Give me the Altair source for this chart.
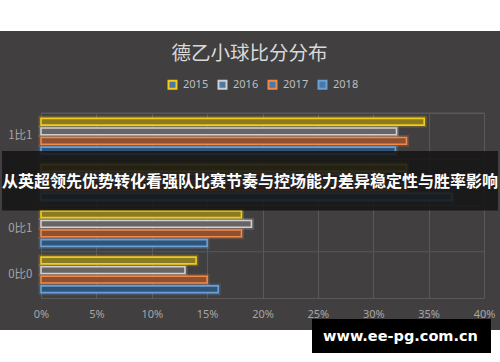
import altair as alt
import pandas as pd

categories = ["1比1", "1比0", "0比1", "0比0"]
years = ["2015", "2016", "2017", "2018"]
values_2015 = [0.346, 0.330, 0.181, 0.140]
values_2016 = [0.321, 0.310, 0.190, 0.130]
values_2017 = [0.330, 0.330, 0.181, 0.150]
values_2018 = [0.320, 0.371, 0.150, 0.160]
x_ticks = [0, 0.05, 0.10, 0.15, 0.20, 0.25, 0.30, 0.35, 0.40]
stroke_colors = ["#f2cc1d", "#cfcfcf", "#ee8a4c", "#6aa0d6"]
fill_colors = ["#8a7b22", "#686464", "#8e5030", "#2f5477"]

title_text = "德乙小球比分分布"
banner_text = "从英超领先优势转化看强队比赛节奏与控场能力差异稳定性与胜率影响"
watermark_text = "www.ee-pg.com.cn"

BG = "#413f3f"
GRID = "#5a5858"

series = [values_2015, values_2016, values_2017, values_2018]
rows = []
for yi, (yr, vals) in enumerate(zip(years, series)):
    for ci, cat in enumerate(categories):
        rows.append({"category": cat, "year": yr, "value": vals[ci],
                     "fill": fill_colors[yi], "stroke": stroke_colors[yi]})
df = pd.DataFrame(rows)
cat_df = pd.DataFrame({"category": categories})
one = pd.DataFrame({"k": [0]})

W, H = 443, 185

y_enc = alt.Y("category:N", sort=categories,
              scale=alt.Scale(paddingInner=0, paddingOuter=0),
              axis=alt.Axis(title=None, grid=False, domain=False, ticks=False,
                            labelPadding=9, labelColor="#a6a6a6", labelFontSize=11.5,
                            labelFont="Noto Sans CJK SC"))
x_enc = alt.X("value:Q", scale=alt.Scale(domain=[0, 0.4], nice=False),
              axis=alt.Axis(values=x_ticks, format=".0%", title=None, domain=False,
                            ticks=False, labelPadding=10, labelColor="#a6a6a6",
                            labelFontSize=11, labelFont="Noto Sans", labelFlush=False,
                            gridColor=GRID, gridWidth=1))
yoff = alt.YOffset("year:N", sort=years, scale=alt.Scale(paddingInner=0.3, paddingOuter=0.56))

white_top = alt.Chart(one).mark_rect(color="white").encode(
    x=alt.value(-41), x2=alt.value(459), y=alt.value(-113), y2=alt.value(-82))
white_bot = alt.Chart(one).mark_rect(color="white").encode(
    x=alt.value(-41), x2=alt.value(459), y=alt.value(217), y2=alt.value(249))

hgrid = alt.Chart(cat_df).mark_rule(color=GRID, strokeWidth=1).encode(
    y=alt.Y("category:N", sort=categories, bandPosition=0),
    x=alt.value(0), x2=alt.value(W))

glow = alt.Chart(df).mark_bar(fillOpacity=0, strokeWidth=5, strokeOpacity=0.22).encode(
    y=y_enc, x=x_enc, yOffset=yoff,
    stroke=alt.Stroke("stroke:N", scale=None))

bars = alt.Chart(df).mark_bar(strokeWidth=1.6).encode(
    y=y_enc, x=x_enc, yOffset=yoff,
    fill=alt.Fill("fill:N", scale=None),
    stroke=alt.Stroke("year:N", sort=years,
                      scale=alt.Scale(domain=years, range=stroke_colors),
                      legend=alt.Legend(title=None, orient="none", legendX=126, legendY=-34,
                                        direction="horizontal", symbolType="square",
                                        symbolSize=64, symbolStrokeWidth=2,
                                        symbolFillColor="transparent",
                                        labelColor="#bfbfbf", labelFontSize=11,
                                        labelFont="Noto Sans", labelOffset=5,
                                        columnPadding=5)))

banner = alt.Chart(one).mark_rect(color="#161616", opacity=0.88).encode(
    x=alt.value(-39), x2=alt.value(457), y=alt.value(38), y2=alt.value(97.5))
banner_txt = alt.Chart(one).mark_text(
    color="white", fontSize=16, fontWeight="bold", font="Noto Sans CJK SC",
    align="center", baseline="middle").encode(
    x=alt.value(209), y=alt.value(69), text=alt.value(banner_text))

wm = alt.Chart(one).mark_rect(color="black").encode(
    x=alt.value(271), x2=alt.value(450), y=alt.value(206), y2=alt.value(240))
wm_txt = alt.Chart(one).mark_text(
    color="white", fontSize=14.5, fontWeight="bold", font="DejaVu Sans",
    align="center", baseline="middle").encode(
    x=alt.value(359.5), y=alt.value(223.5), text=alt.value(watermark_text))

chart = alt.layer(white_top, white_bot, hgrid, glow, bars, banner, banner_txt, wm, wm_txt).properties(
    width=W, height=H,
    title=alt.TitleParams(text=title_text, font="Noto Sans CJK SC", fontSize=19.5,
                          color="#d9d9d9", fontWeight="normal", anchor="middle",
                          dx=-13, offset=-64),
    autosize=alt.AutoSizeParams(type="none"),
    padding={"left": 41, "top": 113, "right": 16, "bottom": 64},
    background=BG,
).configure_view(stroke=GRID, strokeWidth=1)

chart.save("out.html", embed_options={"renderer": "svg", "actions": False})
